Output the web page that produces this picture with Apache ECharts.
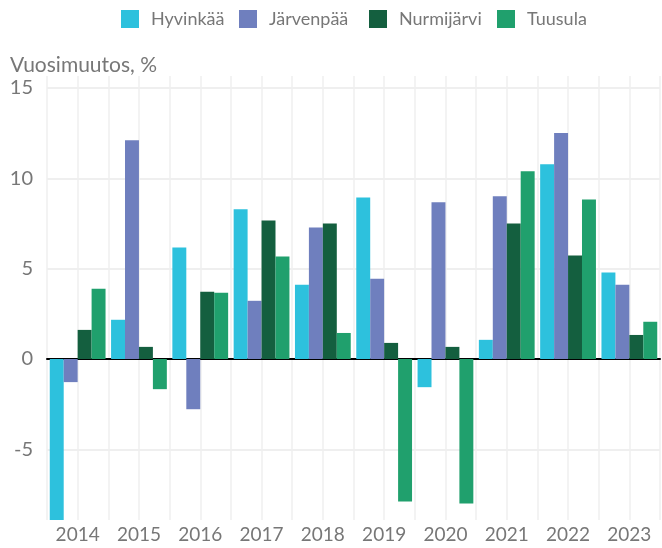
<!DOCTYPE html>
<html lang="fi" style="height: 100%">
  <head>
    <meta charset="utf-8" />
  </head>
  <body style="height: 100%; margin: 0; background: #fff">
    <div id="container" style="height: 100%"></div>

    <script
      type="text/javascript"
      src="https://fastly.jsdelivr.net/npm/echarts@6/dist/echarts.min.js"
    ></script>

    <script type="text/javascript">
      var years = ["2014", "2015", "2016", "2017", "2018", "2019", "2020", "2021", "2022", "2023"];
      var hyvinkaa = [-8.91, 2.17, 6.17, 8.28, 4.11, 8.94, -1.56, 1.06, 10.78, 4.78];
      var jarvenpaa = [-1.28, 12.11, -2.78, 3.22, 7.28, 4.44, 8.67, 9.0, 12.5, 4.11];
      var nurmijarvi = [1.61, 0.67, 3.72, 7.67, 7.5, 0.89, 0.67, 7.5, 5.72, 1.33];
      var tuusula = [3.89, -1.67, 3.67, 5.67, 1.44, -7.89, -8.0, 10.39, 8.83, 2.06];

      var names = ["Hyvinkää", "Järvenpää", "Nurmijärvi", "Tuusula"];
      var colors = ["#2dc1dd", "#6f7fbe", "#145f3f", "#20a06d"];
      var values = [hyvinkaa, jarvenpaa, nurmijarvi, tuusula];
      // legend item x positions (one legend per city, placed like the original)
      var legendLeft = [121, 239, 369, 497];

      var dom = document.getElementById("container");
      var myChart = echarts.init(dom, null, { renderer: "canvas" });
      var font = "Lato, 'Noto Sans', sans-serif";

      var option = {
        animation: false,
        color: colors,
        title: {
          text: "Vuosimuutos, %",
          left: 5,
          top: 50,
          textStyle: { color: "#777", fontSize: 21, fontWeight: "normal", fontFamily: font }
        },
        legend: names.map(function (n, i) {
          return {
            top: 10,
            left: legendLeft[i],
            padding: 0,
            itemWidth: 18,
            itemHeight: 18,
            icon: "rect",
            textStyle: { color: "#777", fontSize: 18, fontFamily: font, padding: [0, 0, 0, 7] },
            data: [n]
          };
        }),
        grid: { left: 47, right: 2, top: 76, bottom: 28 },
        xAxis: [
          {
            type: "category",
            data: years,
            axisLine: { onZero: true, lineStyle: { color: "#000", width: 2 } },
            axisTick: { show: false },
            splitLine: { show: false },
            axisLabel: { color: "#777", fontSize: 19, fontFamily: font, margin: 5 }
          },
          {
            type: "value",
            min: 0,
            max: 20,
            interval: 1,
            axisLine: { show: false },
            axisTick: { show: false },
            axisLabel: { show: false },
            splitLine: { lineStyle: { color: "#efefef", width: 1.5 } }
          }
        ],
        yAxis: {
          type: "value",
          min: -8.91,
          max: 15.66,
          axisLine: { show: false },
          axisTick: { show: false },
          axisLabel: {
            color: "#777",
            fontSize: 20,
            fontFamily: font,
            margin: 14,
            showMinLabel: false,
            showMaxLabel: false
          },
          splitLine: {
            showMinLine: false,
            showMaxLine: false,
            lineStyle: { color: "#efefef", width: 2 }
          }
        },
        series: names.map(function (n, i) {
          return {
            name: n,
            type: "bar",
            data: values[i],
            barGap: "0%",
            barCategoryGap: "9%"
          };
        })
      };

      myChart.setOption(option);
      window.addEventListener("resize", myChart.resize);
    </script>
  </body>
</html>
